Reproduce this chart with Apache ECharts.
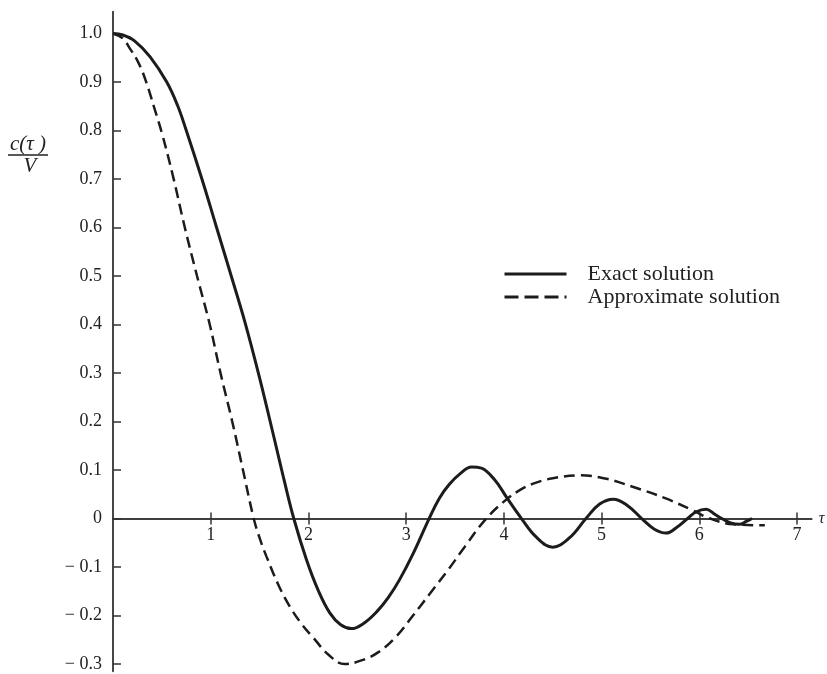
<!DOCTYPE html>
<html>
<head>
<meta charset="utf-8">
<script src="https://cdn.jsdelivr.net/npm/echarts@6/dist/echarts.min.js"></script>
<style>
html,body{margin:0;padding:0;background:#fff;}
#chart{width:827px;height:674px;}
</style>
</head>
<body>
<div id="chart"></div>
<script>
// ---- data ----
var exactTau = [0,0.1,0.22,0.38,0.55,0.66,0.75,0.91,1.06,1.21,1.35,1.5,1.65,1.75,1.85,1.98,2.1,2.22,2.33,2.44,2.56,2.7,2.82,2.93,3.07,3.235,3.34,3.44,3.55,3.67,3.77,3.87,3.95,4.03,4.18,4.33,4.5,4.67,4.84,4.98,5.12,5.27,5.41,5.54,5.66,5.77,5.88,5.97,6.07,6.15,6.23,6.32,6.41,6.48,6.54];
var exactVal = [1.0,0.997,0.985,0.952,0.9,0.852,0.8,0.7,0.6,0.5,0.405,0.29,0.165,0.08,0,-0.085,-0.148,-0.195,-0.219,-0.227,-0.217,-0.192,-0.162,-0.127,-0.073,0,0.042,0.07,0.092,0.106,0.104,0.088,0.068,0.043,0,-0.038,-0.059,-0.04,0,0.03,0.04,0.026,0,-0.022,-0.03,-0.018,0,0.014,0.019,0.01,0,-0.009,-0.012,-0.006,0];
var approxTau = [0,0.1,0.17,0.26,0.34,0.42,0.5,0.615,0.735,0.86,0.99,1.1,1.22,1.33,1.44,1.5,1.57,1.7,1.82,1.94,2.06,2.2,2.37,2.55,2.72,2.9,3.07,3.25,3.44,3.6,3.82,4.03,4.15,4.3,4.5,4.78,5.05,5.31,5.65,5.92,6.11,6.35,6.67];
var approxVal = [1.0,0.99,0.97,0.94,0.9,0.848,0.795,0.705,0.6,0.5,0.4,0.3,0.2,0.1,0,-0.04,-0.078,-0.14,-0.185,-0.22,-0.248,-0.28,-0.30,-0.292,-0.275,-0.243,-0.2,-0.153,-0.103,-0.058,0,0.04,0.057,0.072,0.083,0.089,0.082,0.066,0.042,0.018,0,-0.012,-0.014];
var xTicks = [1,2,3,4,5,6,7];
var xTickLabels = ['1','2','3','4','5','6','7'];
var yTicks = [-0.3,-0.2,-0.1,0,0.1,0.2,0.3,0.4,0.5,0.6,0.7,0.8,0.9,1.0];
var yTickLabels = ['\u2212 0.3','\u2212 0.2','\u2212 0.1','0','0.1','0.2','0.3','0.4','0.5','0.6','0.7','0.8','0.9','1.0'];
var seriesNames = ['Exact solution','Approximate solution'];

function pairs(xs, ys){ return xs.map(function(x,i){ return [x, ys[i]]; }); }
function lookup(vals, labels, v){
  for (var i=0;i<vals.length;i++){ if (Math.abs(vals[i]-v) < 1e-6) return labels[i]; }
  return '';
}

var FONT = 'Liberation Serif';
var INK = '#1c1c1c';
var AX = '#333';

var Y_MIN = -0.315, Y_MAX = 1.045;
var GRID_TOP = 11.7, GRID_BOTTOM = 2.7, H = 674;
var zeroOffset = -((H - GRID_TOP - GRID_BOTTOM) * (0 - Y_MIN) / (Y_MAX - Y_MIN));

var chart = echarts.init(document.getElementById('chart'), null, {renderer:'canvas'});
function xAxisBase(){
  return {
    type:'value', min:0, max:7.15, position:'bottom', offset:zeroOffset,
    splitLine:{show:false},
    axisLine:{show:true, onZero:false, lineStyle:{color:AX, width:1.5}}
  };
}
chart.setOption({
  backgroundColor:'#fff',
  animation:false,
  grid:{left:113, right:15.3, top:GRID_TOP, bottom:GRID_BOTTOM, containLabel:false, outerBoundsMode:'none'},
  legend:{
    orient:'vertical', left:503, top:263, padding:0, itemWidth:62, itemHeight:14, itemGap:1,
    itemStyle:{opacity:0},
    textStyle:{fontFamily:FONT, fontSize:22, color:'#222', padding:[0,0,0,16]},
    data:[
      {name:seriesNames[0], lineStyle:{width:3, type:'solid'}},
      {name:seriesNames[1], lineStyle:{width:3, type:[14,6]}}
    ]
  },
  xAxis:[
    Object.assign(xAxisBase(), {
      name:'\u03c4', nameLocation:'end', nameGap:7,
      nameTextStyle:{fontFamily:FONT, fontStyle:'italic', fontSize:16, color:'#222', verticalAlign:'middle'},
      axisTick:{show:true, inside:false, length:6, lineStyle:{color:AX, width:1.5}, customValues:xTicks},
      axisLabel:{show:true, margin:8, fontFamily:FONT, fontSize:18, color:'#222', customValues:xTicks,
        formatter:function(v){ return lookup(xTicks, xTickLabels, v); }}
    }),
    Object.assign(xAxisBase(), {
      axisTick:{show:true, inside:true, length:6, lineStyle:{color:AX, width:1.5}, customValues:xTicks},
      axisLabel:{show:false}
    })
  ],
  yAxis:{
    type:'value', min:Y_MIN, max:Y_MAX,
    splitLine:{show:false},
    axisLine:{show:true, onZero:false, lineStyle:{color:AX, width:1.8}},
    axisTick:{show:true, inside:true, length:8, lineStyle:{color:AX, width:1.5}, customValues:yTicks},
    axisLabel:{show:true, margin:11, fontFamily:FONT, fontSize:18, color:'#222', customValues:yTicks,
      formatter:function(v){ return lookup(yTicks, yTickLabels, v); }}
  },
  graphic:[
    {type:'text', x:28, y:144, style:{text:'c(\u03c4 )', font:'italic 21px "Liberation Serif"', fill:'#222', textAlign:'center', textVerticalAlign:'middle'}},
    {type:'line', shape:{x1:8, y1:155, x2:48, y2:155}, style:{stroke:'#222', lineWidth:1.5}},
    {type:'text', x:30, y:166, style:{text:'V', font:'italic 21px "Liberation Serif"', fill:'#222', textAlign:'center', textVerticalAlign:'middle'}}
  ],
  series:[
    {name:seriesNames[0], type:'line', xAxisIndex:0, smooth:0.4, symbol:'none', showSymbol:false,
     lineStyle:{color:INK, width:3, type:'solid'}, itemStyle:{color:INK},
     data:pairs(exactTau, exactVal)},
    {name:seriesNames[1], type:'line', xAxisIndex:0, smooth:0.4, symbol:'none', showSymbol:false,
     lineStyle:{color:INK, width:2.5, type:[11,6]}, itemStyle:{color:INK},
     data:pairs(approxTau, approxVal)}
  ]
});
</script>
</body>
</html>
